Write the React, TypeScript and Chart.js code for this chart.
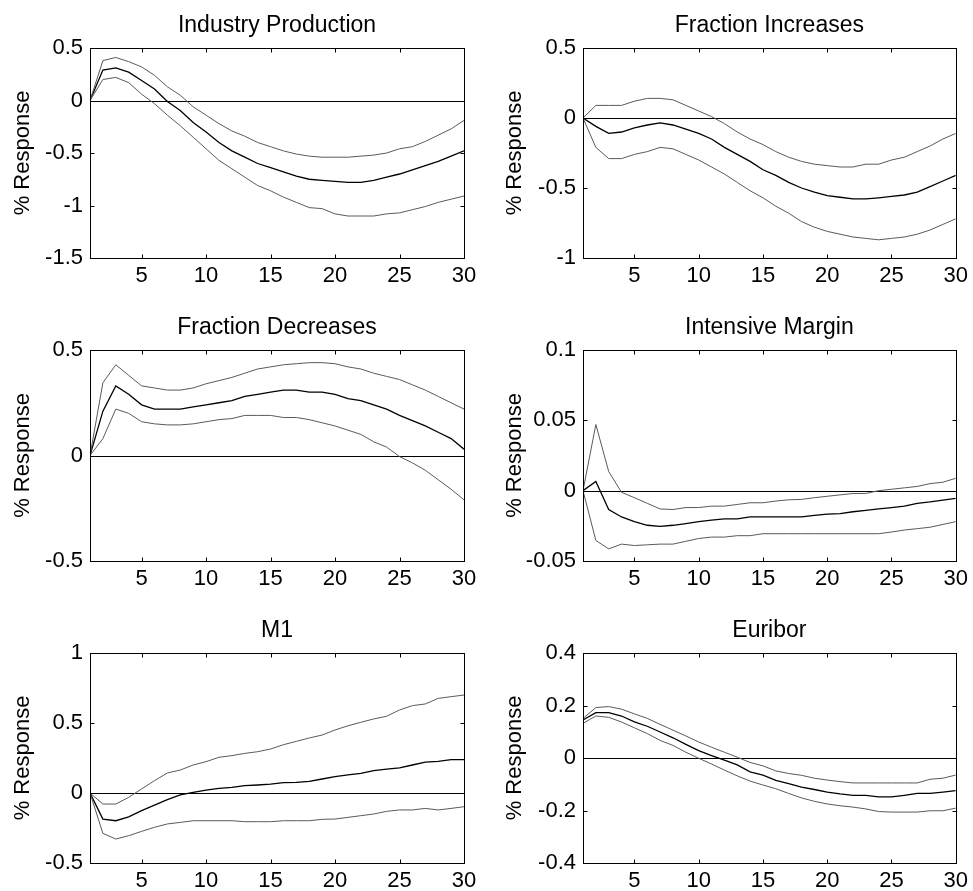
import React, { useEffect, useRef } from 'react';
import { Chart, registerables } from 'chart.js';

Chart.register(...registerables);

// ---------------- data ----------------
const HORIZON = [1, 2, 3, 4, 5, 6, 7, 8, 9, 10, 11, 12, 13, 14, 15, 16, 17, 18, 19, 20, 21, 22, 23, 24, 25, 26, 27, 28, 29, 30];
const X_TICKS = [5, 10, 15, 20, 25, 30];

const IP_MID = [0, 0.29, 0.31, 0.27, 0.19, 0.11, -0.01, -0.095, -0.21, -0.30, -0.40, -0.48, -0.54, -0.60, -0.64, -0.68, -0.72, -0.75, -0.76, -0.77, -0.78, -0.78, -0.76, -0.73, -0.70, -0.66, -0.62, -0.58, -0.53, -0.48];
const IP_UP = [0, 0.38, 0.41, 0.37, 0.32, 0.24, 0.13, 0.05, -0.06, -0.14, -0.22, -0.29, -0.34, -0.40, -0.44, -0.48, -0.51, -0.53, -0.54, -0.54, -0.54, -0.53, -0.52, -0.50, -0.46, -0.44, -0.39, -0.33, -0.27, -0.19];
const IP_LO = [0, 0.20, 0.22, 0.17, 0.06, -0.03, -0.14, -0.24, -0.35, -0.46, -0.57, -0.65, -0.73, -0.81, -0.86, -0.92, -0.97, -1.02, -1.03, -1.08, -1.10, -1.10, -1.10, -1.08, -1.07, -1.04, -1.01, -0.97, -0.94, -0.91];
const IP_TICKS = [-1.5, -1, -0.5, 0, 0.5];

const FI_MID = [0, -0.06, -0.11, -0.10, -0.07, -0.05, -0.035, -0.05, -0.08, -0.11, -0.15, -0.21, -0.26, -0.31, -0.37, -0.41, -0.46, -0.50, -0.53, -0.555, -0.566, -0.578, -0.578, -0.57, -0.56, -0.55, -0.53, -0.49, -0.45, -0.41];
const FI_UP = [0, 0.09, 0.09, 0.09, 0.12, 0.14, 0.14, 0.13, 0.09, 0.05, 0.01, -0.04, -0.10, -0.15, -0.19, -0.24, -0.28, -0.31, -0.33, -0.34, -0.35, -0.35, -0.33, -0.33, -0.30, -0.28, -0.24, -0.20, -0.15, -0.11];
const FI_LO = [0, -0.21, -0.29, -0.29, -0.26, -0.24, -0.21, -0.22, -0.26, -0.30, -0.35, -0.40, -0.46, -0.52, -0.57, -0.63, -0.68, -0.74, -0.78, -0.81, -0.83, -0.85, -0.86, -0.87, -0.86, -0.85, -0.83, -0.80, -0.76, -0.72];
const FI_TICKS = [-1, -0.5, 0, 0.5];

const FD_MID = [0, 0.21, 0.33, 0.29, 0.24, 0.22, 0.22, 0.22, 0.23, 0.24, 0.25, 0.26, 0.28, 0.29, 0.30, 0.31, 0.31, 0.30, 0.30, 0.29, 0.27, 0.26, 0.24, 0.22, 0.19, 0.165, 0.14, 0.11, 0.08, 0.03];
const FD_UP = [0, 0.345, 0.43, 0.38, 0.33, 0.32, 0.31, 0.31, 0.32, 0.34, 0.355, 0.37, 0.39, 0.41, 0.42, 0.43, 0.435, 0.44, 0.44, 0.435, 0.42, 0.41, 0.39, 0.375, 0.36, 0.335, 0.31, 0.28, 0.25, 0.22];
const FD_LO = [0, 0.08, 0.22, 0.20, 0.16, 0.15, 0.145, 0.145, 0.15, 0.16, 0.17, 0.175, 0.19, 0.19, 0.19, 0.18, 0.18, 0.17, 0.155, 0.14, 0.12, 0.10, 0.065, 0.04, -0.005, -0.035, -0.07, -0.115, -0.16, -0.21];
const FD_TICKS = [-0.5, 0, 0.5];

const IM_MID = [0, 0.0065, -0.0134, -0.0187, -0.022, -0.0246, -0.0254, -0.0246, -0.0234, -0.022, -0.021, -0.020, -0.020, -0.0187, -0.0187, -0.0187, -0.0187, -0.0187, -0.0175, -0.0167, -0.0163, -0.015, -0.014, -0.013, -0.012, -0.011, -0.009, -0.008, -0.0067, -0.0055];
const IM_UP = [0, 0.047, 0.0136, -0.0012, -0.005, -0.009, -0.013, -0.0134, -0.012, -0.012, -0.011, -0.011, -0.0098, -0.0086, -0.0086, -0.0074, -0.0065, -0.0062, -0.005, -0.004, -0.003, -0.002, -0.002, 0.0, 0.001, 0.002, 0.003, 0.005, 0.006, 0.0088];
const IM_LO = [0, -0.0354, -0.0414, -0.038, -0.039, -0.0385, -0.038, -0.038, -0.036, -0.034, -0.033, -0.033, -0.032, -0.032, -0.0306, -0.0306, -0.0306, -0.0306, -0.0306, -0.0306, -0.0306, -0.0306, -0.0306, -0.0306, -0.0294, -0.028, -0.027, -0.026, -0.024, -0.022];
const IM_TICKS = [-0.05, 0, 0.05, 0.1];

const M1_MID = [0, -0.186, -0.198, -0.17, -0.126, -0.086, -0.048, -0.014, 0.005, 0.021, 0.033, 0.04, 0.052, 0.057, 0.064, 0.074, 0.076, 0.083, 0.10, 0.117, 0.129, 0.14, 0.16, 0.17, 0.18, 0.20, 0.22, 0.226, 0.238, 0.238];
const M1_UP = [0, -0.079, -0.079, -0.031, 0.029, 0.088, 0.143, 0.164, 0.20, 0.224, 0.255, 0.267, 0.283, 0.295, 0.314, 0.345, 0.369, 0.393, 0.414, 0.45, 0.48, 0.505, 0.529, 0.548, 0.593, 0.624, 0.636, 0.676, 0.688, 0.70];
const M1_LO = [0, -0.288, -0.329, -0.305, -0.274, -0.245, -0.221, -0.21, -0.198, -0.198, -0.198, -0.198, -0.205, -0.205, -0.205, -0.198, -0.198, -0.198, -0.188, -0.186, -0.174, -0.162, -0.15, -0.131, -0.121, -0.121, -0.11, -0.121, -0.11, -0.098];
const M1_TICKS = [-0.5, 0, 0.5, 1];

const EU_MID = [0.145, 0.173, 0.173, 0.16, 0.138, 0.121, 0.099, 0.077, 0.052, 0.028, 0.009, -0.008, -0.026, -0.053, -0.065, -0.085, -0.098, -0.111, -0.12, -0.13, -0.137, -0.142, -0.142, -0.148, -0.148, -0.142, -0.135, -0.135, -0.13, -0.124];
const EU_UP = [0.151, 0.192, 0.196, 0.186, 0.168, 0.151, 0.128, 0.106, 0.084, 0.061, 0.041, 0.022, 0.003, -0.017, -0.03, -0.049, -0.059, -0.066, -0.077, -0.084, -0.09, -0.095, -0.095, -0.095, -0.095, -0.095, -0.095, -0.081, -0.077, -0.065];
const EU_LO = [0.132, 0.16, 0.155, 0.137, 0.115, 0.093, 0.067, 0.048, 0.022, -0.001, -0.023, -0.046, -0.068, -0.088, -0.103, -0.117, -0.135, -0.152, -0.165, -0.175, -0.182, -0.187, -0.194, -0.204, -0.206, -0.206, -0.206, -0.201, -0.201, -0.191];
const EU_TICKS = [-0.4, -0.2, 0, 0.2, 0.4];

const TITLES = ['Industry Production', 'Fraction Increases', 'Fraction Decreases', 'Intensive Margin', 'M1', 'Euribor'];
const Y_LABEL = '% Response';

// ---------------- layout / style ----------------
const W = 973;
const H = 891;
const COLS = [{ L: 90, R: 464 }, { L: 583, R: 957 }];
const ROWS = [{ T: 48, B: 258 }, { T: 350, B: 561 }, { T: 653, B: 863 }];
const Y_W_LEFT = 90;
const Y_W_RIGHT = 91;
const X_H = 36;
const TITLE_FONT = 23;
const TITLE_PAD_TOP = 9;
const TITLE_PAD_BOTTOM = 9;
const TITLE_BOX = TITLE_PAD_TOP + TITLE_FONT * 1.2 + TITLE_PAD_BOTTOM;
const FONT_FAMILY = '"Liberation Sans", Arial, Helvetica, sans-serif';
const TICK_FONT = 22;
const TICK_LEN = 4;
const BAND_COLOR = '#5a5a5a';

const PANELS = [
  { title: TITLES[0], mid: IP_MID, up: IP_UP, lo: IP_LO, ticks: IP_TICKS, col: 0, row: 0 },
  { title: TITLES[1], mid: FI_MID, up: FI_UP, lo: FI_LO, ticks: FI_TICKS, col: 1, row: 0 },
  { title: TITLES[2], mid: FD_MID, up: FD_UP, lo: FD_LO, ticks: FD_TICKS, col: 0, row: 1 },
  { title: TITLES[3], mid: IM_MID, up: IM_UP, lo: IM_LO, ticks: IM_TICKS, col: 1, row: 1 },
  { title: TITLES[4], mid: M1_MID, up: M1_UP, lo: M1_LO, ticks: M1_TICKS, col: 0, row: 2 },
  { title: TITLES[5], mid: EU_MID, up: EU_UP, lo: EU_LO, ticks: EU_TICKS, col: 1, row: 2 },
];

const framePlugin = {
  id: 'matlabFrame',
  beforeDatasetsDraw(chart: any) {
    const { ctx, chartArea: a, scales } = chart;
    const y0 = Math.round(scales.y.getPixelForValue(0)) + 0.5;
    ctx.save();
    ctx.strokeStyle = '#000';
    ctx.lineWidth = 1;
    ctx.beginPath();
    ctx.moveTo(scales.x.getPixelForValue(HORIZON[0]), y0);
    ctx.lineTo(scales.x.getPixelForValue(HORIZON[HORIZON.length - 1]), y0);
    ctx.stroke();
    ctx.restore();
  },
  afterDatasetsDraw(chart: any) {
    const { ctx, chartArea: a, scales } = chart;
    const l = Math.round(a.left) + 0.5;
    const r = Math.round(a.right) + 0.5;
    const t = Math.round(a.top) + 0.5;
    const b = Math.round(a.bottom) + 0.5;
    ctx.save();
    ctx.strokeStyle = '#000';
    ctx.lineWidth = 1;
    ctx.strokeRect(l, t, r - l, b - t);
    ctx.beginPath();
    scales.x.ticks.forEach((tk: any) => {
      const px = Math.round(scales.x.getPixelForValue(tk.value)) + 0.5;
      ctx.moveTo(px, b);
      ctx.lineTo(px, b - TICK_LEN);
      ctx.moveTo(px, t);
      ctx.lineTo(px, t + TICK_LEN);
    });
    scales.y.ticks.forEach((tk: any) => {
      const py = Math.round(scales.y.getPixelForValue(tk.value)) + 0.5;
      ctx.moveTo(l, py);
      ctx.lineTo(l + TICK_LEN, py);
      ctx.moveTo(r, py);
      ctx.lineTo(r - TICK_LEN, py);
    });
    ctx.stroke();
    ctx.restore();
  },
};

function Panel({ spec }: { spec: any }) {
  const ref = useRef<HTMLCanvasElement>(null);
  useEffect(() => {
    const { L, R } = COLS[spec.col];
    const { T, B } = ROWS[spec.row];
    const yW = spec.col === 0 ? Y_W_LEFT : Y_W_RIGHT;
    const toPts = (arr: number[]) => HORIZON.map((x, i) => ({ x, y: arr[i] }));
    const tickFont = { family: FONT_FAMILY, size: TICK_FONT };
    const chart = new Chart(ref.current as HTMLCanvasElement, {
      type: 'line',
      data: {
        datasets: [
          { data: toPts(spec.lo), borderColor: BAND_COLOR, borderWidth: 1 },
          { data: toPts(spec.up), borderColor: BAND_COLOR, borderWidth: 1 },
          { data: toPts(spec.mid), borderColor: '#000', borderWidth: 1.3 },
        ],
      },
      options: {
        responsive: false,
        animation: false,
        events: [],
        layout: {
          padding: { left: L - yW, top: T - TITLE_BOX, right: W - R, bottom: H - B - X_H },
        },
        elements: { point: { radius: 0 }, line: { tension: 0 } },
        plugins: {
          legend: { display: false },
          tooltip: { enabled: false },
          title: {
            display: true,
            text: spec.title,
            fullSize: false,
            color: '#000',
            font: { family: FONT_FAMILY, size: TITLE_FONT, weight: 'normal' },
            padding: { top: TITLE_PAD_TOP, bottom: TITLE_PAD_BOTTOM },
          },
        },
        scales: {
          x: {
            type: 'linear',
            min: HORIZON[0],
            max: HORIZON[HORIZON.length - 1],
            grid: { display: false, drawTicks: false },
            border: { display: false },
            afterBuildTicks: (s: any) => { s.ticks = X_TICKS.map((v) => ({ value: v })); },
            afterFit: (s: any) => { s.height = X_H; },
            ticks: { padding: 5, font: tickFont, color: '#000', maxRotation: 0, autoSkip: false, callback: (v: any) => String(v) },
          },
          y: {
            type: 'linear',
            min: spec.ticks[0],
            max: spec.ticks[spec.ticks.length - 1],
            grid: { display: false, drawTicks: false },
            border: { display: false },
            afterBuildTicks: (s: any) => { s.ticks = spec.ticks.map((v: number) => ({ value: v })); },
            afterFit: (s: any) => { s.width = yW; },
            ticks: { padding: 7, font: tickFont, color: '#000', autoSkip: false, callback: (v: any) => String(v) },
            title: { display: true, text: Y_LABEL, color: '#000', font: tickFont, padding: { top: 10, bottom: 0 } },
          },
        },
      },
      plugins: [framePlugin],
    } as any);
    return () => chart.destroy();
  }, [spec]);
  return (
    <canvas
      ref={ref}
      width={W}
      height={H}
      style={{ position: 'absolute', left: 0, top: 0, width: W, height: H, pointerEvents: 'none' }}
    />
  );
}

export default function App() {
  return (
    <div style={{ position: 'absolute', left: 0, top: 0, width: W, height: H, background: '#fff', overflow: 'hidden' }}>
      {PANELS.map((p) => (
        <Panel key={p.title} spec={p} />
      ))}
    </div>
  );
}
